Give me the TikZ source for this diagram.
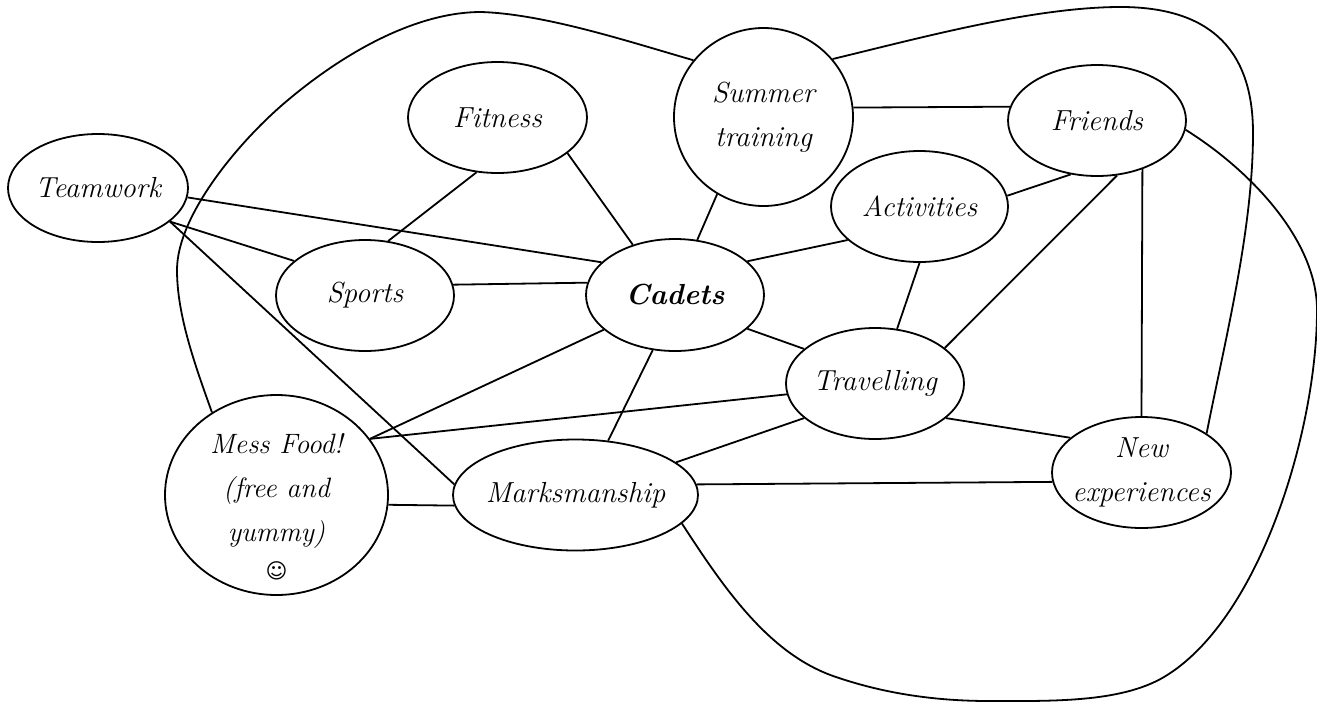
\documentclass[tikz,border=0pt]{standalone}
\usepackage{fontspec}
\usepackage{tikz}
\usetikzlibrary{shapes.geometric}
\newfontfamily\symfont{DejaVu Sans}
\begin{document}
\begin{tikzpicture}[x=1pt, y=-1pt, line width=1.8pt, every node/.style={ellipse, draw, inner sep=-40pt, align=center, font=\fontsize{29}{44}\selectfont\itshape}]
	\useasboundingbox (0,0) rectangle (1317,702);
	% Nodes
	\node[minimum width=180pt, minimum height=108pt] (teamwork) at (98,188) {Teamwork};
	\node[minimum width=179pt, minimum height=111pt] (fitness) at (497.5,117.5) {Fitness};
	\node[minimum width=179pt, minimum height=178pt] (summer) at (763.5,117) {Summer\\training};
	\node[minimum width=178pt, minimum height=111pt] (friends) at (1097,120.5) {Friends};
	\node[minimum width=177pt, minimum height=111pt] (activities) at (919.5,206.5) {Activities};
	\node[minimum width=178pt, minimum height=111pt] (sports) at (365,295.5) {Sports};
	\node[minimum width=178pt, minimum height=112pt, font=\fontsize{29}{44}\selectfont\itshape\bfseries] (cadets) at (675,295) {Cadets};
	\node[minimum width=178pt, minimum height=111pt] (travelling) at (875,383.5) {Travelling};
	\node[minimum width=223pt, minimum height=200pt, font=\fontsize{28}{44}\selectfont\itshape] (mess) at (276.5,495) {\rule{0pt}{43pt}Mess Food!\\(free and\\yummy)\\[-7pt]{\fontsize{21}{21}\selectfont\symfont ☺}};
	\node[minimum width=245pt, minimum height=111pt] (marksmanship) at (575.5,495) {Marksmanship};
	\node[minimum width=179pt, minimum height=111pt] (newexp) at (1141.5,472.5) {New\\experiences};
	% Edges
	\draw (teamwork.-6.4) -- (cadets.156);
	\draw (teamwork.-25.9) -- (sports.154.7);
	\draw (teamwork.-25.9) -- (marksmanship.175.3);
	\draw (fitness.-111) -- (sports.67);
	\draw (fitness.-27.7) -- (cadets.130);
	\draw (sports.7.4) -- (cadets.172.9);
	\draw (summer.-121.4) -- (cadets.68);
	\draw (summer.6.4) -- (friends.171.4);
	\draw (activities.205.8) -- (cadets.25.3);
	\draw (activities.7.5) -- (friends.244.9);
	\draw (activities.-90) -- (travelling.68);
	\draw (friends.-70.2) -- (travelling.27.9);
	\draw (friends.-47.8) -- (newexp.90);
	\draw (cadets.-25.3) -- (travelling.154);
	\draw (cadets.206.9) -- (mess.31.9);
	\draw (cadets.248.6) -- (marksmanship.59);
	\draw (travelling.187.4) -- (mess.31.9);
	\draw (travelling.206.6) -- (marksmanship.18.7);
	\draw (travelling.-26.2) -- (newexp.154.2);
	\draw (marksmanship.5.6) -- (newexp.186.7);
	\draw (mess.-5.6) -- (marksmanship.185.2);
	% Long curved edges
	\draw (mess.128.2) .. controls (195,365) and (177,315) .. (177,270) .. controls (177,215) and (240,140) .. (288,100) .. controls (350,48) and (420,12) .. (481,12) .. controls (545,14) and (630,42) .. (summer.141);
	\draw (summer.40.4) .. controls (920,38) and (1030,8) .. (1117,7) .. controls (1205,6) and (1253,45) .. (1253,133) .. controls (1253,230) and (1225,340) .. (newexp.31);
	\draw (friends.-6) .. controls (1250,170) and (1317,240) .. (1317,310) .. controls (1317,430) and (1260,620) .. (1164,677) .. controls (1120,703) and (1050,701) .. (989,701) .. controls (930,701) and (880,692) .. (836,677) .. controls (770,655) and (725,590) .. (marksmanship.-15.9);
\end{tikzpicture}
\end{document}
